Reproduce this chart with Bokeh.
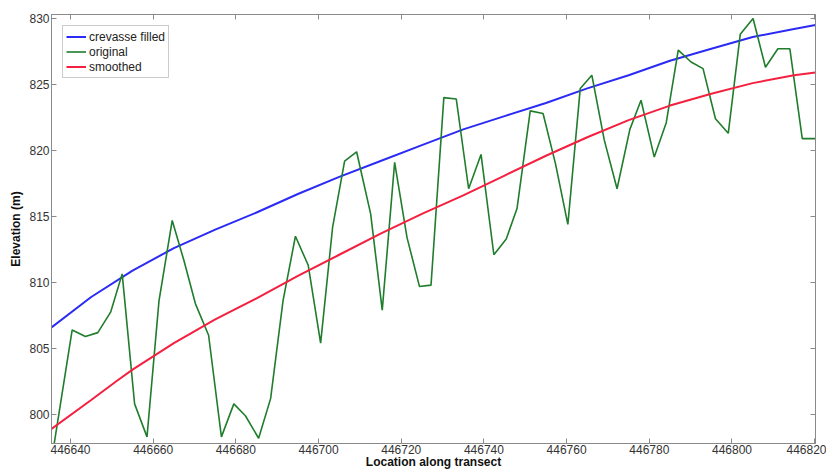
from bokeh.plotting import figure
from bokeh.models import (LinearAxis, FixedTicker, Range1d, Legend, LegendItem,
                          BasicTickFormatter, CustomJSTickFormatter)
from bokeh.embed import file_html
from bokeh.resources import INLINE

# ---- data ----
orig_x = [446635.4, 446640.4, 446643.6, 446646.6, 446649.7, 446652.5, 446655.5, 446658.5,
          446661.4, 446664.6, 446667.4, 446670.2, 446673.4, 446676.5, 446679.5, 446682.3,
          446685.5, 446688.4, 446691.4, 446694.4, 446697.5, 446700.5, 446703.4, 446706.3,
          446709.2, 446712.6, 446715.4, 446718.4, 446721.4, 446724.4, 446727.2, 446730.3,
          446733.3, 446736.3, 446739.3, 446742.4, 446745.4, 446748.0, 446751.2, 446754.3,
          446757.3, 446760.3, 446763.3, 446766.1, 446769.1, 446772.2, 446775.3, 446778.0,
          446781.2, 446784.1, 446787.0, 446790.1, 446793.0, 446796.0, 446799.1, 446802.0,
          446805.1, 446808.1, 446811.1, 446814.0, 446817.0, 446820.2]
orig_y = [796.5, 806.4, 805.9, 806.2, 807.75, 810.65, 800.8, 798.3,
          808.6, 814.7, 811.7, 808.4, 806.0, 798.3, 800.8, 799.9,
          798.2, 801.2, 808.6, 813.5, 811.3, 805.4, 814.2, 819.2,
          819.9, 815.2, 807.9, 819.1, 813.4, 809.7, 809.8, 824.0,
          823.9, 817.1, 819.7, 812.1, 813.3, 815.6, 823.0, 822.8,
          819.0, 814.4, 824.7, 825.7, 820.8, 817.1, 821.6, 823.8,
          819.5, 822.1, 827.6, 826.7, 826.2, 822.4, 821.3, 828.8,
          830.0, 826.3, 827.7, 827.7, 820.9, 820.9]

filled_x = [446635.4, 446645, 446655, 446665, 446675, 446685, 446695, 446705, 446715,
            446725, 446735, 446745, 446755, 446765, 446775, 446785, 446795, 446805,
            446815, 446820.2]
filled_y = [806.6, 808.9, 810.9, 812.6, 814.0, 815.3, 816.7, 818.0, 819.2,
            820.4, 821.6, 822.6, 823.6, 824.7, 825.7, 826.8, 827.7, 828.6,
            829.2, 829.5]

smooth_x = [446635.4, 446645, 446651, 446655, 446665, 446675, 446685, 446695, 446705,
            446715, 446725, 446735, 446745, 446755, 446765, 446775, 446785, 446795,
            446805, 446815, 446820.2]
smooth_y = [798.9, 801.1, 802.5, 803.4, 805.4, 807.2, 808.8, 810.5, 812.1,
            813.7, 815.2, 816.6, 818.1, 819.6, 821.0, 822.3, 823.4, 824.3,
            825.1, 825.7, 825.9]

x_ticks = [446640, 446660, 446680, 446700, 446720, 446740, 446760, 446780, 446800, 446820]
y_ticks = [800, 805, 810, 815, 820, 825, 830]

FONT = "Liberation Sans"
AXIS_GRAY = "#8a8a8a"

p = figure(width=826, height=471, output_backend="svg", toolbar_location=None,
           x_range=Range1d(446635.4, 446820.2), y_range=Range1d(797.8, 830.3),
           min_border_left=51, min_border_right=11, min_border_top=14,
           min_border_bottom=28, background_fill_color="white",
           border_fill_color="white")
p.grid.visible = False
p.outline_line_color = AXIS_GRAY

r_blue = p.line(filled_x, filled_y, line_color="#2b2bf5", line_width=2)
r_green = p.line(orig_x, orig_y, line_color="#1f7d2c", line_width=1.6)
r_red = p.line(smooth_x, smooth_y, line_color="#f5203f", line_width=2)

def style(ax, labels=True):
    ax.major_tick_in = 5
    ax.major_tick_out = 0
    ax.minor_tick_line_color = None
    ax.major_tick_line_color = AXIS_GRAY
    ax.axis_line_color = AXIS_GRAY
    ax.major_label_text_font = FONT
    ax.major_label_text_color = "#333333"
    ax.axis_label_text_font = FONT
    ax.axis_label_text_font_style = "bold"
    ax.axis_label_text_font_size = "12px"
    ax.axis_label_text_color = "#111111"
    ax.major_label_text_font_size = "12px"
    if labels:
        ax.formatter = BasicTickFormatter(use_scientific=False)
        ax.major_label_standoff = 1
    else:
        ax.formatter = CustomJSTickFormatter(code="return ''")
        ax.major_label_standoff = 0

xa = p.xaxis[0]
xa.ticker = FixedTicker(ticks=x_ticks)
xa.axis_label = "Location along transect"
style(xa)
xa.axis_label_standoff = -2

ya = p.yaxis[0]
ya.ticker = FixedTicker(ticks=y_ticks)
ya.axis_label = "Elevation (m)"
style(ya)
ya.major_label_standoff = 2
ya.axis_label_standoff = 3

top = LinearAxis(ticker=FixedTicker(ticks=x_ticks))
style(top, labels=False)
p.add_layout(top, "above")
right = LinearAxis(ticker=FixedTicker(ticks=y_ticks))
style(right, labels=False)
p.add_layout(right, "right")

legend = Legend(items=[LegendItem(label="crevasse filled", renderers=[r_blue]),
                       LegendItem(label="original", renderers=[r_green]),
                       LegendItem(label="smoothed", renderers=[r_red])],
                location="top_left")
legend.margin = 11
legend.padding = 3
legend.spacing = 0
legend.glyph_width = 20
legend.glyph_height = 15
legend.label_height = 15
legend.label_standoff = 3
legend.label_text_font = FONT
legend.label_text_font_size = "12px"
legend.label_text_color = "#222222"
legend.border_line_color = "#9a9a9a"
legend.background_fill_color = "white"
p.add_layout(legend)

open("out.html", "w").write(file_html(p, INLINE))
